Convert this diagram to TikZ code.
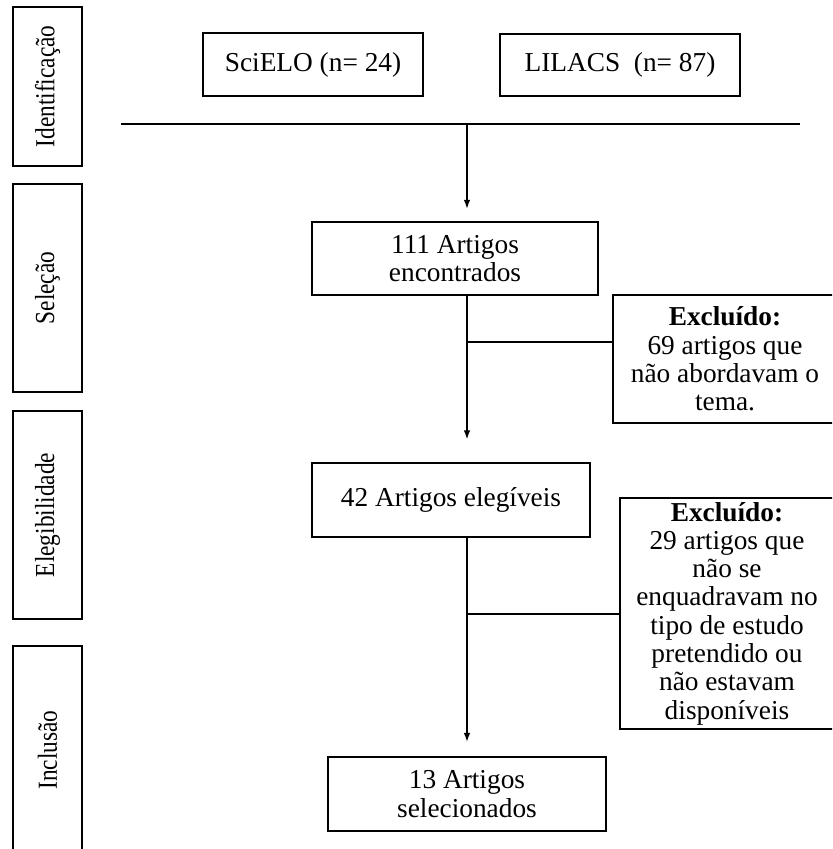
\documentclass[tikz,border=0pt]{standalone}
\usepackage{fontspec}
\usepackage{graphicx}
\setmainfont{Liberation Serif}
\usetikzlibrary{arrows.meta}
\newcommand{\stagetext}[1]{\scalebox{1}[1.18]{#1}}

\begin{document}
\begin{tikzpicture}[x=0.75pt, y=-0.75pt, align=center]
  \tikzstyle{block} = [rectangle, draw, line width=1.1pt, inner sep=0pt, font={\fontsize{20.5}{21.2}\selectfont}]
  \tikzstyle{stage} = [rectangle, draw, line width=1.1pt, inner sep=0pt, rotate=90, minimum height=51.75pt, font={\fontsize{17.5}{21}\selectfont}]
  \tikzstyle{arrow} = [-{Latex[length=7pt,width=5pt]}, line width=1.5pt]
  \tikzstyle{link} = [line width=1.5pt]

  \useasboundingbox (0,0) rectangle (832,849);
  \clip (0,0) rectangle (832,849);

  % stages on the left
  \node[stage, minimum width=119.25pt] (ident) at (47.5,86.5) {\stagetext{Identificação}};
  \node[stage, minimum width=156pt] (selec) at (47.5,288) {\stagetext{Seleção}};
  \node[stage, minimum width=156pt] (elegib) at (47.5,515) {\stagetext{Elegibilidade}};
  \node[stage, minimum width=156pt] (inclu) at (47.5,750) {\stagetext{Inclusão}};

  % flow
  \node[block, minimum width=165pt, minimum height=47pt] (scielo) at (313,64.5) {SciELO (n= 24)};
  \node[block, minimum width=180pt, minimum height=46.5pt] (lilacs) at (620,65) {LILACS\enspace(n= 87)};
  \node[block, minimum width=214.5pt, minimum height=55pt] (found) at (455,258.5) {111 Artigos\\encontrados};
  \node[block, minimum width=168pt, minimum height=96pt] (excl1) at (725,359) {\textbf{Excluído:}\\69 artigos que\\não abordavam o\\tema.};
  \node[block, minimum width=208.5pt, minimum height=55.5pt] (eligible) at (451,500) {42 Artigos elegíveis};
  \node[block, minimum width=160.5pt, minimum height=173pt] (excl2) at (727,613.5) {\textbf{Excluído:}\\29 artigos que\\não se\\enquadravam no\\tipo de estudo\\pretendido ou\\não estavam\\disponíveis};
  \node[block, minimum width=208.5pt, minimum height=55.5pt] (selected) at (467,794) {13 Artigos\\selecionados};

  \coordinate (hl) at (121,124);
  \coordinate (hr) at (800,124);
  \coordinate (hm) at (467,124);
  \coordinate (b1) at (467,342);

  \draw[link] (hl) -- (hr);
  \draw[arrow, shorten >=9pt] (hm) -- (hm |- found.north);
  \draw[arrow, shorten >=17pt] (found.south -| hm) -- (hm |- eligible.north);
  \draw[link] (b1) -- (b1 -| excl1.west);
  \draw[arrow, shorten >=10.5pt] (eligible.south -| hm) -- (hm |- selected.north);
  \draw[link] (hm |- excl2.west) -- (excl2.west);
\end{tikzpicture}
\end{document}
